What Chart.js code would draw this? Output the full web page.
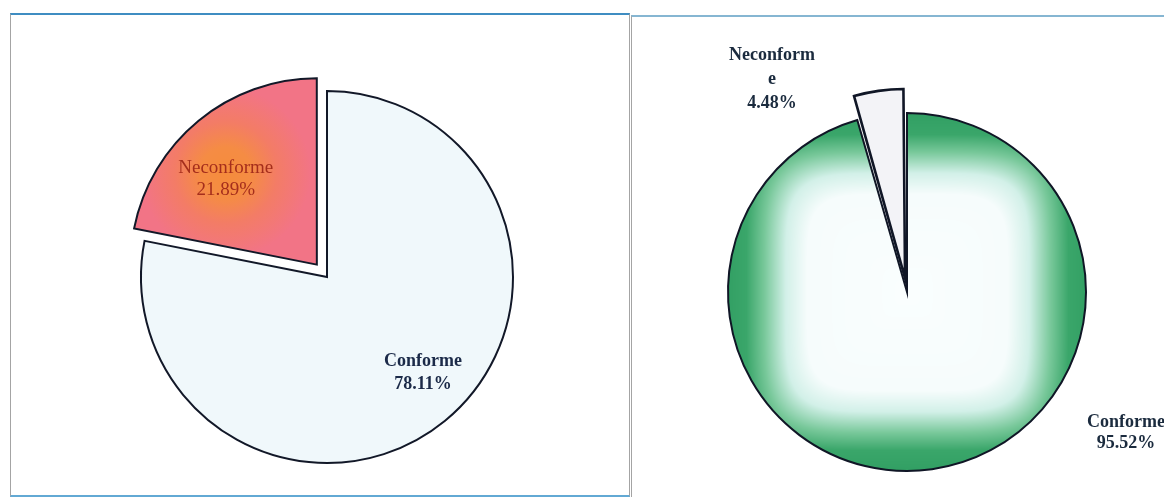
<!DOCTYPE html>
<html><head><meta charset="utf-8">
<script src="https://cdn.jsdelivr.net/npm/chart.js@4"></script>
<style>
html,body{margin:0;padding:0;background:#ffffff;width:1164px;height:504px;overflow:hidden;position:relative}
.panel{position:absolute;box-sizing:border-box}
#p1{left:10px;top:13px;width:620px;height:484px;border-left:1px solid #a4a4a4;border-right:1px solid #a4a4a4;border-top:2px solid #3f8dc2;border-bottom:2px solid #62a9d4}
#p2{left:631px;top:15px;width:540px;height:482px;border-left:1px solid #a4a4a4;border-top:2px solid #86b6d2}
.wrap{position:absolute}
#w1{left:10px;top:0;width:634px;height:504px}
#w2{left:632px;top:0;width:532px;height:504px}
</style></head>
<body>
<div class="panel" id="p1"></div>
<div class="panel" id="p2"></div>
<div class="wrap" id="w1"><canvas id="c1"></canvas></div>
<div class="wrap" id="w2"><canvas id="c2"></canvas></div>
<script>
// ---- data ----
const categories = ['Conforme', 'Neconforme'];
const leftValues = [78.11, 21.89];
const rightValues = [95.52, 4.48];

// ---- helpers ----
function areaCenter(chart) {
  const a = chart.chartArea;
  return { x: (a.left + a.right) / 2, y: (a.top + a.bottom) / 2 };
}

let greenPattern = null;
function makeGreenPattern(chart, r) {
  if (greenPattern) return greenPattern;
  const w = chart.width, h = chart.height;
  const c = areaCenter(chart);
  const off = document.createElement('canvas');
  off.width = w; off.height = h;
  const g = off.getContext('2d');
  const img = g.createImageData(w, h);
  const stops = [
    [0.00, [250, 254, 254]],
    [0.56, [246, 252, 252]],
    [0.68, [210, 240, 232]],
    [0.80, [120, 200, 154]],
    [0.90, [58, 166, 106]],
    [1.20, [36, 148, 88]]
  ];
  function col(t) {
    for (let k = 1; k < stops.length; k++) {
      if (t <= stops[k][0]) {
        const a = stops[k - 1], b = stops[k];
        const f = (t - a[0]) / (b[0] - a[0]);
        return [0, 1, 2].map(j => a[1][j] + (b[1][j] - a[1][j]) * f);
      }
    }
    return stops[stops.length - 1][1];
  }
  const p = 5;
  for (let y = 0; y < h; y++) {
    for (let x = 0; x < w; x++) {
      const u = Math.abs(x - c.x) / r, v = Math.abs(y - c.y) / r;
      const t = Math.pow(Math.pow(u, p) + Math.pow(v * 1.02, p), 1 / p);
      const cc = col(t);
      const i = (y * w + x) * 4;
      img.data[i] = cc[0]; img.data[i + 1] = cc[1]; img.data[i + 2] = cc[2]; img.data[i + 3] = 255;
    }
  }
  g.putImageData(img, 0, 0);
  greenPattern = chart.ctx.createPattern(off, 'no-repeat');
  return greenPattern;
}

function wrapWord(word, maxChars) {
  if (!maxChars || word.length <= maxChars) return [word];
  const out = [];
  for (let i = 0; i < word.length; i += maxChars) out.push(word.slice(i, i + maxChars));
  return out;
}

const sliceLabels = {
  id: 'sliceLabels',
  afterDatasetsDraw(chart, args, opts) {
    const meta = chart.getDatasetMeta(0);
    const values = chart.data.datasets[0].data;
    const ctx = chart.ctx;
    ctx.save();
    meta.data.forEach((arc, i) => {
      const s = opts.items[i];
      const a = s.angle * Math.PI / 180;
      const r = s.dist * opts.baseRadius;
      const x = arc.x + Math.sin(a) * r;
      const y = arc.y - Math.cos(a) * r;
      const lines = wrapWord(chart.data.labels[i], s.wrap).concat([values[i].toFixed(2) + '%']);
      ctx.font = s.font;
      ctx.fillStyle = s.color;
      ctx.textAlign = 'center';
      ctx.textBaseline = 'middle';
      const total = (lines.length - 1) * s.lineHeight;
      lines.forEach((l, k) => ctx.fillText(l, x, y - total / 2 + k * s.lineHeight));
    });
    ctx.restore();
  }
};

// ---- left chart ----
const R1 = 186;
new Chart(document.getElementById('c1'), {
  type: 'pie',
  data: {
    labels: categories,
    datasets: [{
      data: leftValues,
      backgroundColor: (ctx) => {
        if (ctx.dataIndex === 0) return '#f0f8fb';
        const chart = ctx.chart;
        if (!chart.chartArea) return '#f27485';
        const c = areaCenter(chart);
        const gx = c.x - 101 + 10, gy = c.y - 104 + 12;
        const g = chart.ctx.createRadialGradient(gx, gy, 0, gx, gy, 85);
        g.addColorStop(0, '#f58c3c');
        g.addColorStop(0.3, '#f58c44');
        g.addColorStop(0.6, '#f37c66');
        g.addColorStop(1, '#f27486');
        return g;
      },
      borderColor: '#121828',
      borderWidth: 2,
      borderJoinStyle: 'miter',
      offset: [0, 64]
    }]
  },
  options: {
    responsive: true,
    maintainAspectRatio: false,
    animation: false,
    radius: R1,
    rotation: 0,
    layout: { padding: { top: 50, left: 0, right: 0, bottom: 0 } },
    plugins: {
      legend: { display: false },
      tooltip: { enabled: false },
      sliceLabels: {
        baseRadius: R1,
        items: [
          { angle: 135, dist: 0.73, font: 'bold 18px "Liberation Serif"', color: '#1b2a48', lineHeight: 23 },
          { angle: 314, dist: 0.757, font: '19px "Liberation Serif"', color: '#a52e1c', lineHeight: 22 }
        ]
      }
    }
  },
  plugins: [sliceLabels]
});

// ---- right chart ----
const R2 = 179;
new Chart(document.getElementById('c2'), {
  type: 'pie',
  data: {
    labels: categories,
    datasets: [{
      data: rightValues,
      backgroundColor: (ctx) => {
        if (ctx.dataIndex === 1) return '#f3f3f7';
        const chart = ctx.chart;
        if (!chart.chartArea) return '#36a468';
        return makeGreenPattern(chart, R2);
      },
      borderColor: '#101626',
      borderWidth: [2, 2.6],
      borderJoinStyle: 'miter',
      offset: [0, 56]
    }]
  },
  options: {
    responsive: true,
    maintainAspectRatio: false,
    animation: false,
    radius: R2,
    rotation: 0,
    layout: { padding: { top: 80, left: 18, right: 0, bottom: 0 } },
    plugins: {
      legend: { display: false },
      tooltip: { enabled: false },
      sliceLabels: {
        baseRadius: R2,
        items: [
          { angle: 122.8, dist: 1.455, font: 'bold 18px "Liberation Serif"', color: '#1b2b3e', lineHeight: 21 },
          { angle: 327.6, dist: 1.407, font: 'bold 18px "Liberation Serif"', color: '#1b2b3e', lineHeight: 24, wrap: 9 }
        ]
      }
    }
  },
  plugins: [sliceLabels]
});
</script>
</body></html>
